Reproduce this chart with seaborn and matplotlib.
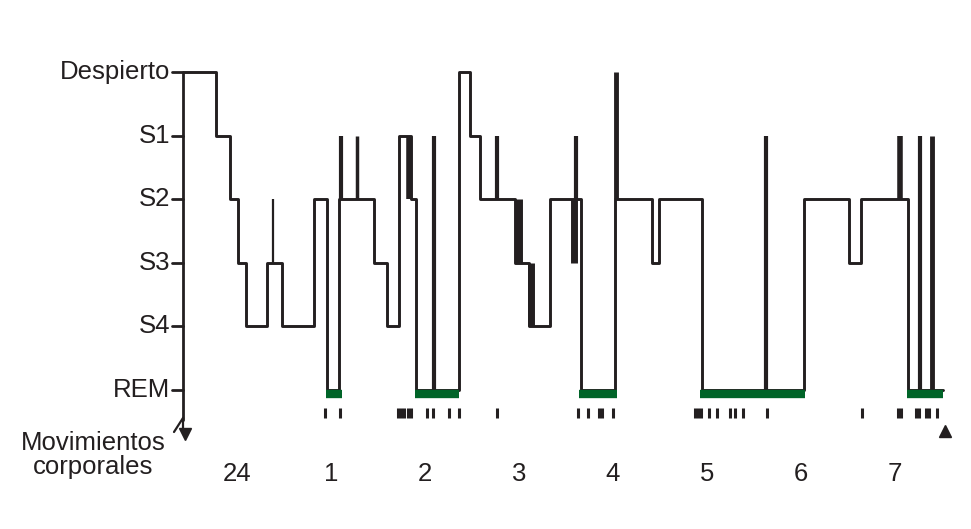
import matplotlib
matplotlib.use("Agg")
import matplotlib.pyplot as plt
import seaborn as sns
import pandas as pd
import numpy as np

sns.set_theme(style="white")
plt.rcParams['font.family'] = ['Liberation Sans', 'DejaVu Sans']

stage_labels = ["REM", "S4", "S3", "S2", "S1", "Despierto"]
hour_ticks = [0, 1, 2, 3, 4, 5, 6, 7]
hour_labels = ["24", "1", "2", "3", "4", "5", "6", "7"]

# transitions (hours after midnight) and stage (0=REM ... 5=awake)
t_start = [-0.564, -0.223, -0.074, 0.011, 0.096, 0.319, 0.479, 0.819, 0.957, 1.085, 1.457, 1.596,
           1.723, 1.851, 1.904, 2.362, 2.479, 2.585, 2.957, 3.106, 3.330, 3.660, 4.021, 4.415,
           4.489, 4.947, 6.032, 6.511, 6.638, 7.138]
t_end_last = 7.511
stages = [5, 4, 3, 2, 1, 2, 1, 3, 0, 3, 2, 1, 4, 3, 0, 5, 4, 3, 2, 1, 3, 0, 3, 2, 3, 0, 3, 2, 3, 0]

# brief spikes: time, from stage, to stage, line width
spike_t = [0.383, 1.106, 1.28, 1.83, 2.096, 2.766, 3.00, 3.13, 3.58, 3.606, 4.03, 5.628, 7.053, 7.266, 7.394]
spike_from = [2, 3, 3, 3, 0, 3, 3, 2, 3, 3, 3, 0, 3, 0, 0]
spike_to = [3, 4, 4, 4, 4, 4, 2, 1, 2, 4, 5, 4, 4, 4, 4]
spike_w = [1.6, 3, 2.5, 4, 3, 3, 5, 5, 5, 3, 3.5, 3, 4, 3, 3.5]

# REM periods (green bars)
rem_start = [0.947, 1.894, 3.638, 4.925, 7.128]
rem_end = [1.117, 2.362, 4.043, 6.043, 7.511]

# body movements (hours)
move_t = [0.936, 1.096, 1.713, 1.745, 1.777, 1.819, 1.851, 2.021, 2.085, 2.255, 2.362, 2.766,
          3.628, 3.734, 3.851, 3.883, 4.000, 4.872, 4.904, 4.936, 5.021, 5.106, 5.245, 5.298,
          5.383, 5.638, 6.649, 7.032, 7.064, 7.223, 7.255, 7.330, 7.362, 7.447]

xs, ys = [], []
ends = t_start[1:] + [t_end_last]
for a, b, s in zip(t_start, ends, stages):
    xs += [a, b]
    ys += [s, s]
df = pd.DataFrame({"h": xs, "s": ys})

fig = plt.figure(figsize=(9.71, 5.29), dpi=100)
ax = fig.add_axes([0, 0, 1, 1])
ax.set_xlim(-237 / 94, (971 - 237) / 94)
ax.set_ylim((390 - 529) / 63.6, 390 / 63.6)
ax.axis("off")

ink = "#231f20"
sns.lineplot(data=df, x="h", y="s", sort=False, estimator=None, color=ink, lw=2.1, ax=ax)
for t, a, b, w in zip(spike_t, spike_from, spike_to, spike_w):
    ax.plot([t, t], [a, b], color=ink, lw=w, solid_capstyle="butt")
for a, b in zip(rem_start, rem_end):
    ax.plot([a, b], [-0.06, -0.06], color="#006428", lw=6, solid_capstyle="butt")
for t in move_t:
    ax.plot([t, t], [-0.28, -0.44], color=ink, lw=2.2, solid_capstyle="butt")

x_axis = (183 - 237) / 94
tick_l = (172 - 237) / 94
ax.plot([x_axis, x_axis], [5, -0.47], color=ink, lw=2)
for i, lab in enumerate(stage_labels):
    ax.plot([tick_l, x_axis], [i, i], color=ink, lw=2)
    ax.text((170 - 237) / 94, i, lab, ha="right", va="center", fontsize=18.5, color=ink)
ax.plot([(174 - 237) / 94, x_axis], [(390 - 432) / 63.6, (390 - 418) / 63.6], color=ink, lw=1.6)
ax.plot([x_axis, x_axis], [(390 - 418) / 63.6, (390 - 432) / 63.6], color=ink, lw=1.6)
ax.plot([(185 - 237) / 94], [(390 - 434) / 63.6], marker="v", color=ink, ms=8)
ax.plot([(945 - 237) / 94], [(390 - 431) / 63.6], marker="^", color=ink, ms=8)

for t, lab in zip(hour_ticks, hour_labels):
    ax.text(t, (390 - 474) / 63.6, lab, ha="center", va="center", fontsize=18.5, color=ink)
ax.text((93 - 237) / 94, (390 - 455) / 63.6, "Movimientos\ncorporales", ha="center", va="center",
        fontsize=18.5, color=ink, linespacing=1.05)

fig.savefig("out.png", dpi=100)
